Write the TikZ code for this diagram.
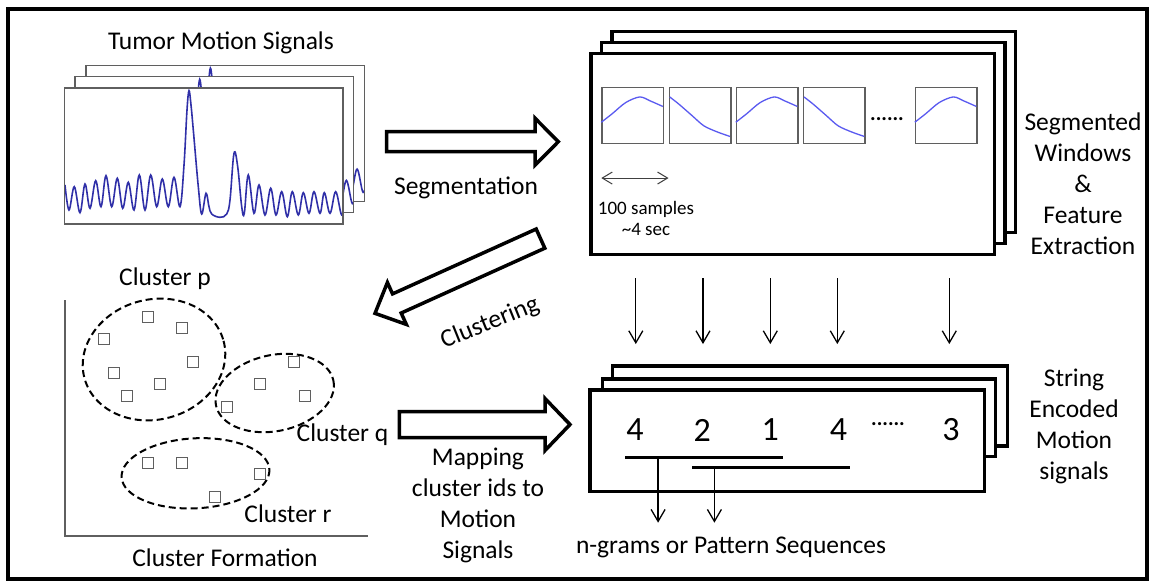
\documentclass[tikz,border=0pt]{standalone}
\usepackage{fontspec}
\setmainfont{Carlito}
\usepackage{tikz}
\usetikzlibrary{arrows.meta,calc}

\definecolor{sigblue}{RGB}{48,48,168}
\definecolor{winblue}{RGB}{90,90,240}
\definecolor{boxgray}{RGB}{95,95,95}

% outlined block arrow along +x: length, half shaft, half head, head length
\newcommand{\fatarrow}[4]{%
  \draw[line width=3.5pt,line join=miter] (0,-#2) -- ({#1-#4},-#2) -- ({#1-#4},-#3) -- (#1,0)
    -- ({#1-#4},#3) -- ({#1-#4},#2) -- (0,#2) -- cycle;}

% breathing trace of the front plot
\newcommand{\tumortrace}{plot[smooth,tension=.6] coordinates {
  (65,185) (69,210) (74.3,186.7) (80,212.7) (85,184) (90,208.3) (95.7,180.7) (101,206.7)
  (106,175.7) (111.7,206.7) (117.3,178.3) (122.7,208.3) (128.3,182.3) (134,210)
  (139.3,175) (145,210) (150.7,175) (156.7,206.7) (162.3,179) (168.3,206.7)
  (174,177.3) (180,206.7) (184,165) (187,110) (189,90.7) (191,105) (193.3,130) (198.3,186.7)
  (201.7,214) (206,193.3) (209,206.7) (211.7,214) (220,217.3) (226.7,214) (230,200)
  (234,153.3) (237.7,166.7) (241.7,206.7) (244.3,213.3) (248.3,175) (254,213.3)
  (259,185) (265,215) (270.7,188.3) (276,215) (281.7,191.7) (287.3,216.7)
  (292.3,191.7) (298.3,215) (303.3,192.7) (309,213.3) (314,191.7) (320,213.3)
  (324.3,192.7) (330,213.3) (335.7,191.7) (341.7,215) (346,200)}}

\begin{document}
\begin{tikzpicture}[x=1pt,y=-1pt,
  lbl/.style={font=\fontsize{25.5}{31}\selectfont,align=center,inner sep=0pt},
  small/.style={font=\fontsize{19}{21}\selectfont,align=center,inner sep=0pt},
  digit/.style={font=\fontsize{34}{40}\selectfont,inner sep=0pt},
  stack/.style={line width=3.3pt,fill=white},
  winbox/.style={draw=boxgray,line width=1.5pt,minimum width=61.5pt,minimum height=55.6pt,inner sep=0pt},
  wincurve/.style={winblue,line width=1.3pt},
  thinarrow/.style={line width=1.3pt,-{Straight Barb[length=12pt,width=14pt]}},
  dimarrow/.style={black!75,line width=1pt,{Straight Barb[length=10pt,width=12pt]}-{Straight Barb[length=10pt,width=12pt]}},
  ring/.style={line width=2pt,dash pattern=on 7pt off 4pt},
  pt/.style={draw=boxgray,line width=1.2pt,minimum size=11pt,inner sep=0pt}]

  \useasboundingbox (0,0) rectangle (1149,581);
  \draw[line width=3.5pt] (8,9) rectangle (1147,579);

  % stacked tumour motion plots
  \node[lbl] (title) at (221,43) {Tumor Motion Signals};
  \foreach \k in {2,1,0} {
    \begin{scope}[shift={({10.7*\k},{-11.3*\k})}]
      \fill[white] (64.5,88) rectangle (343,224);
      \begin{scope}
        \clip (64.5,88) rectangle (343,224);
        \draw[sigblue,line width=1.6pt] \tumortrace;
      \end{scope}
      \draw[boxgray,line width=1.5pt] (64.5,88) rectangle (343,224);
    \end{scope}
  }

  % segmentation
  \begin{scope}[shift={(386.7,141.7)}]
    \fatarrow{171.6}{10}{23.5}{23.3}
  \end{scope}
  \node[lbl] (seg) at (466,188) {Segmentation};

  % segmented windows
  \foreach \k in {2,1,0}
    \draw[stack] ({591+10.5*\k},{53.3-11*\k}) rectangle ({994.5+10.5*\k},{254.5-11*\k});
  \foreach \n/\x in {1/632.8,2/700,3/767.3,4/834.3,5/946.3}
    \node[winbox] (w\n) at (\x,115.5) {};
  \foreach \n in {1,3,5}
    \draw[wincurve,shift={(w\n.north west)}] plot[smooth] coordinates
      {(0,35.3) (11,26.7) (24.4,15.6) (38.4,10) (48.8,13.9) (61.5,19.5)};
  \foreach \n in {2,4}
    \draw[wincurve,shift={(w\n.north west)}] plot[smooth] coordinates
      {(1.2,10) (10.4,17.2) (23.8,28.9) (35.4,38.9) (48.8,45) (61.5,49.5)};
  \node[font=\fontsize{21}{21}\selectfont\bfseries,inner sep=0pt] (wdots) at (887,119) {......};
  \draw[dimarrow] ([yshift=-34pt]w1.south west) -- ([yshift=-34pt]w2.south west);
  \node[small] (len) at (646,218) {100 samples\\\textasciitilde 4 sec};
  \node[lbl] (feat) at (1083,184) {Segmented\\Windows\\\&\\Feature\\Extraction};

  % windows to symbols
  \foreach \n in {1,...,5}
    \draw[thinarrow] ([shift={(3,134)}]w\n.south) -- ++(0,66);

  % clustering
  \begin{scope}[shift={(540.5,238.6)},rotate=204.3]
    \fatarrow{181.6}{10.5}{23}{24}
  \end{scope}
  \node[lbl,rotate=22] (clu) at (490,323) {Clustering};

  % cluster formation
  \draw[boxgray,line width=1.5pt] (65,300) -- (65,536) -- (367.7,536);
  \draw[ring,rotate around={15:(154,359.5)}] (154,359.5) ellipse [x radius=72,y radius=60];
  \draw[ring,rotate around={12:(274.7,393)}] (274.7,393) ellipse [x radius=60,y radius=38];
  \draw[ring,rotate around={3:(195.5,473.3)}] (195.5,473.3) ellipse [x radius=74,y radius=35];
  \foreach \x/\y [count=\i] in {148.3/317.3,181.7/328.3,104/339.3,193.3/361.7,114.3/372.7,160/384.3,126.7/395.7}
    \node[pt] (p\i) at (\x,\y) {};
  \foreach \x/\y [count=\i] in {294.3/361.7,260/384.3,305/395.7,226.7/406.7}
    \node[pt] (q\i) at (\x,\y) {};
  \foreach \x/\y [count=\i] in {147.7/462.7,181.7/462.7,260/473.7,215/496.7}
    \node[pt] (r\i) at (\x,\y) {};
  \node[lbl] (cp) at (165,279) {Cluster p};
  \node[lbl] (cq) at (342.5,435) {Cluster q};
  \node[lbl] (cr) at (288,514) {Cluster r};
  \node[lbl] (cf) at (225,558) {Cluster Formation};

  % mapping
  \begin{scope}[shift={(399.3,424.5)}]
    \fatarrow{170.7}{13}{26}{25}
  \end{scope}
  \node[lbl] (map) at (478,505) {Mapping\\cluster ids to\\Motion\\Signals};

  % string encoded signals
  \draw[stack] (612.7,366) rectangle (1007.3,446);
  \draw[stack] (602.2,379) rectangle (995.6,456.7);
  \draw[stack] (590,390) rectangle (984.7,491.7);
  \foreach \n/\x/\t in {1/635/4,2/702.3/2,3/770.2/1,4/838.5/4,6/951.1/3}
    \node[digit] (s\n) at (\x,430) {\t};
  \node[font=\fontsize{21}{21}\selectfont\bfseries,inner sep=0pt] (s5) at (888,424) {......};
  \node[lbl] (enc) at (1074,426) {String\\Encoded\\Motion\\signals};

  % n-grams
  \draw[line width=3pt] ([shift={(-10,27.3)}]s1.center) coordinate (ga) -- ([shift={(12.4,27.3)}]s3.center) coordinate (gb);
  \draw[line width=3pt] ([shift={(-10,37.7)}]s2.center) coordinate (gc) -- ([shift={(11.7,37.7)}]s4.center) coordinate (gd);
  \draw[thinarrow] ($(ga)!.21!(gb)$) -- ++(0,65.4);
  \draw[thinarrow] ($(gc)!.14!(gd)$) -- ++(0,55);
  \node[lbl] (ngram) at (731,547) {n-grams or Pattern Sequences};
\end{tikzpicture}
\end{document}
